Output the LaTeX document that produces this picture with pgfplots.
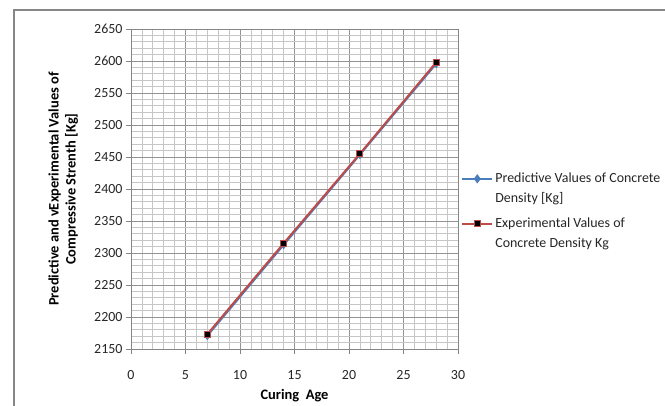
\documentclass[border=0pt]{standalone}
\usepackage{fontspec}
\setmainfont{Carlito}
\usepackage{pgfplots}
\pgfplotsset{compat=1.18}
\definecolor{predblue}{HTML}{4A7EBB}
\definecolor{expred}{HTML}{BE4B48}
\definecolor{axisgray}{HTML}{868686}
\newcommand{\chartfont}{\fontsize{14}{19.5}\selectfont}
\newcommand{\labelfont}{\fontsize{14.5}{17}\selectfont\bfseries}
\begin{document}
\begin{tikzpicture}[x=1bp,y=1bp]
\useasboundingbox (0,0) rectangle (665,405);
\clip (0,0) rectangle (665,405);
\fill[white] (0,0) rectangle (665,405);
% chart area frame
\draw[axisgray, line width=1.2bp] (14,-20) rectangle (700,395);
\begin{axis}[
  at={(131bp,56bp)}, anchor=south west, scale only axis,
  width=327bp, height=320bp,
  xmin=0, xmax=30, ymin=2150, ymax=2650,
  xtick={0,5,...,30}, ytick={2150,2200,...,2650},
  minor x tick num=4, minor y tick num=4,
  grid=both,
  major grid style={color=gray!85, line width=0.9bp},
  minor grid style={color=gray!45, line width=0.7bp},
  axis line style={axisgray, line width=0.9bp},
  tick style={axisgray, line width=0.8bp},
  major tick length=5bp, minor tick length=0pt,
  tick align=outside, tick pos=left,
  /pgf/number format/.cd, 1000 sep={}, assume math mode=true,
  /pgfplots/.cd,
  ticklabel style={font=\chartfont, text=black!85},
  xticklabel style={yshift=-13bp},
  xlabel={Curing\ \ Age},
  xlabel style={font=\labelfont, at={(axis description cs:0.5,-0.147)}, anchor=center},
  ylabel={Predictive and vExperimental Values of\\Compressive Strenth [Kg]},
  ylabel style={font=\labelfont, align=center, at={(axis description cs:-0.207,0.5)}, anchor=center},
  legend style={at={(1.0,0.563)}, anchor=north west, draw=none, fill=none,
    font=\chartfont, cells={align=left}, row sep=10.5bp, text=black!85},
  legend cell align=left,
  % the symbol sits beside the first line of each two-line entry
  legend image code/.code={
    \path[draw=none] (0bp,-12bp) -- (0bp,12bp);
    \draw[mark repeat=2, mark phase=2] plot coordinates {(0bp,9.5bp) (15bp,9.5bp) (30bp,9.5bp)};
  },
]
\addplot[predblue, line width=2.2bp, mark=diamond*, mark size=4.2bp,
  mark options={fill=predblue, line width=0.5bp}]
  coordinates {(7,2171) (14,2313) (21,2454) (28,2596)};
\addlegendentry{Predictive Values of Concrete\\Density [Kg]}
\addplot[expred, line width=2bp, mark=square*, mark size=3bp,
  mark options={fill=black, draw=expred, line width=0.9bp}]
  coordinates {(7,2173) (14,2315) (21,2455) (28,2598)};
\addlegendentry{Experimental Values of\\Concrete Density Kg}
\end{axis}
\end{tikzpicture}
\end{document}
